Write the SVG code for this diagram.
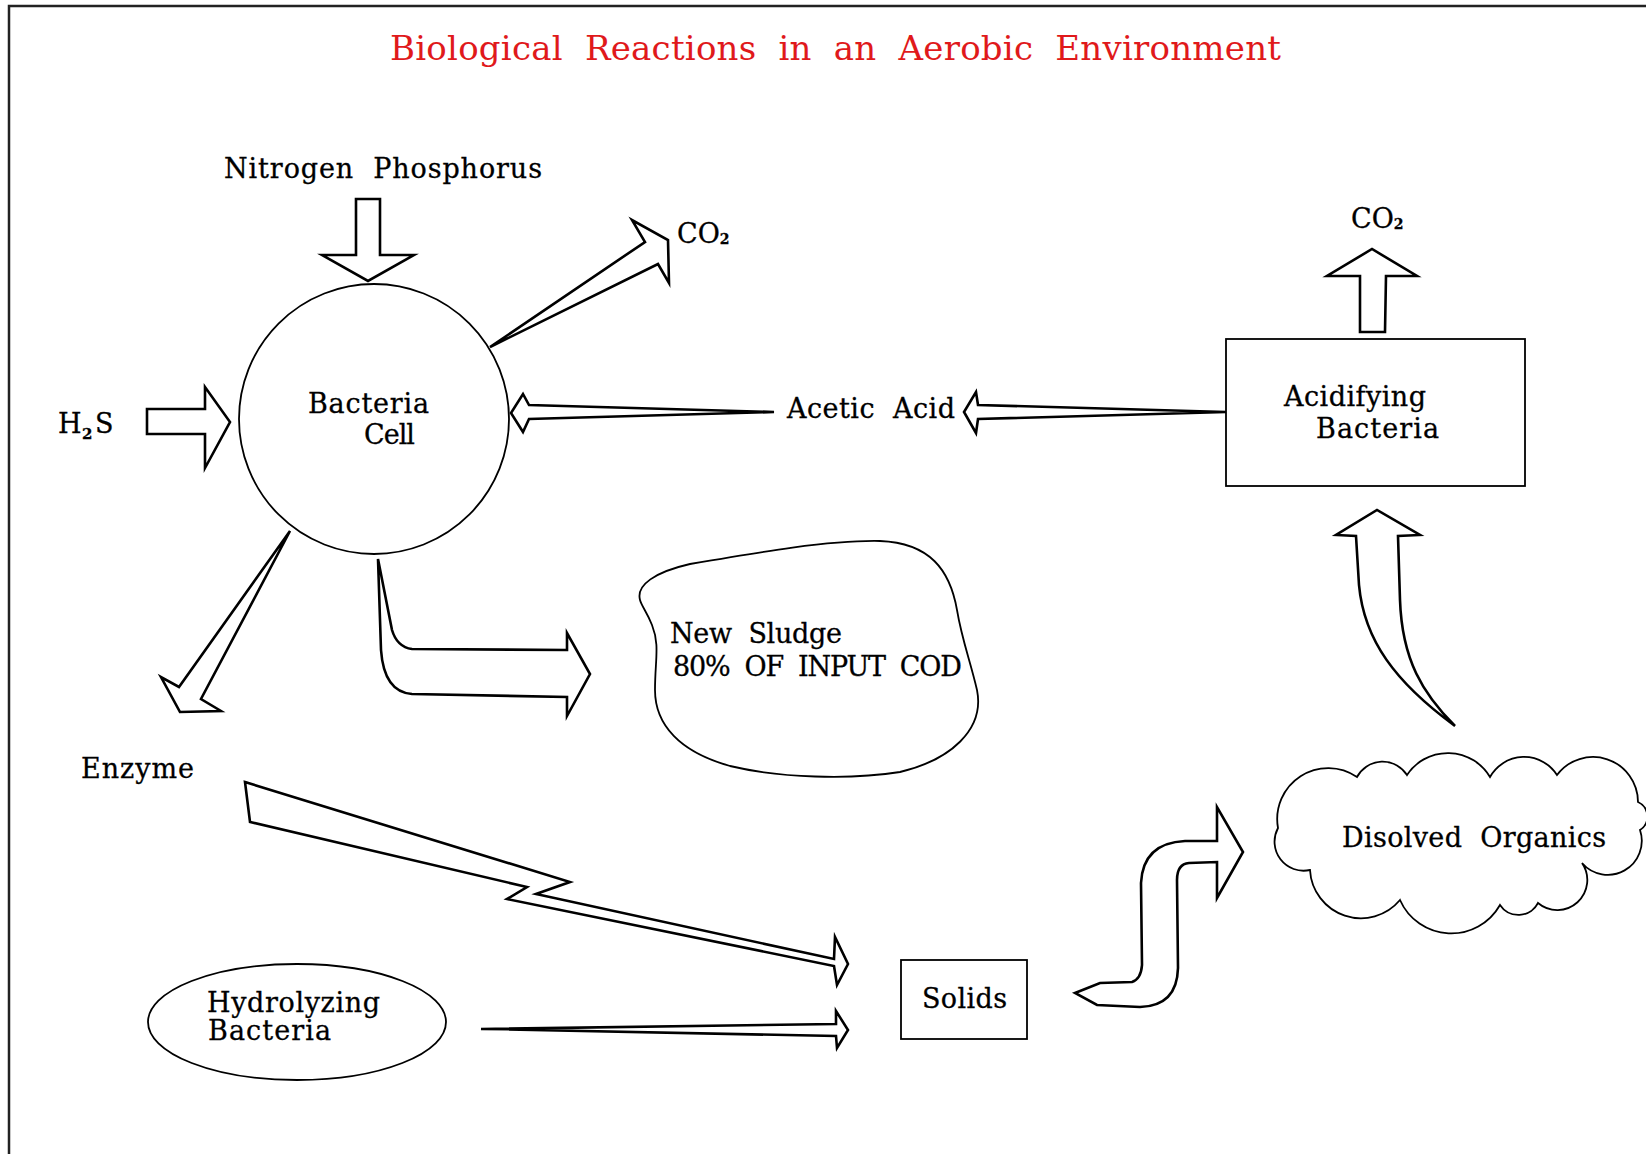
<svg xmlns="http://www.w3.org/2000/svg" width="1646" height="1154" viewBox="0 0 1646 1154">
<style>
.t{font-family:"DejaVu Serif","Liberation Serif",serif;font-size:27px;fill:#000;stroke:#000;stroke-width:0.3;white-space:pre}
.title{font-family:"DejaVu Serif","Liberation Serif",serif;font-size:34px;fill:#e0191b;white-space:pre}
.arr{fill:#fff;stroke:#000;stroke-width:2.6;stroke-linejoin:miter;stroke-miterlimit:10}
.node{fill:#fff;stroke:#000;stroke-width:1.8}
.frame{fill:none;stroke:#222;stroke-width:2.5}
</style>
<rect x="0" y="0" width="1646" height="1154" fill="#fff"/>
<path class="frame" d="M9,1160 L9,6 L1660,6"/>
<text id="title" class="title" x="390" y="60" textLength="891" lengthAdjust="spacing">Biological  Reactions  in  an  Aerobic  Environment</text>

<g id="connectors">
  <polygon id="arrow-nitrogen" class="arr" points="356,199 380,199 380,255 414,255 368,281 322,255 356,255"/>
  <polygon id="arrow-h2s" class="arr" points="147,409 205,409 205,387 230,422 205,468 205,434 147,434"/>
  <polygon id="arrow-co2-left" class="arr" points="490,347 645,242 632,220 668,240 669,283 658,264"/>
  <polygon id="arrow-acetic-right" class="arr" points="1226,412 978,405 976,392 964,412 976,433 978,419"/>
  <polygon id="arrow-acetic-left" class="arr" points="774,412 529,405 523,394 511,413 523,432 529,419"/>
  <polygon id="arrow-enzyme" class="arr" points="290,531 179,687 161,677 180,712 221,711 201,699"/>
  <path id="arrow-sludge" class="arr" d="M378,559 L381,650 Q384,692 412,694 L567,697 L567,716 L590,674 L567,633 L567,650 L412,649 Q397,647 392,630 Z"/>
  <polygon id="arrow-lightning" class="arr" points="245,782 570,882 536,894 834,959 835,937 848,964 837,985 834,966 507,899 527,887 250,822"/>
  <polygon id="arrow-hydrolyzing" class="arr" points="481,1029 836,1024 836,1011 848,1030 837,1048 836,1036"/>
  <path id="arrow-s" class="arr" d="M1075,993 L1100,983 L1132,982 Q1141,979 1142,965 L1141,883 Q1143,843 1185,841 L1217,841 L1217,807 L1243,852 L1217,898 L1217,862 L1189,863 Q1177,864 1177,880 L1178,968 Q1177,1006 1140,1007 L1097,1005 Z"/>
  <path id="arrow-up-curved" class="arr" d="M1455,726 C1423,694 1402,660 1400,600 L1398,536 L1420,535 L1377,510 L1336,535 L1356,536 L1359,585 C1364,640 1395,682 1455,726 Z"/>
  <polygon id="arrow-co2-right" class="arr" points="1360,332 1385,332 1386,276 1417,276 1372,249 1327,276 1360,276"/>
</g>

<g id="node-bacteria-cell">
  <circle class="node" cx="374" cy="419" r="135"/>
  <text class="t" x="308" y="413" textLength="121" lengthAdjust="spacing">Bacteria</text>
  <text class="t" x="364" y="444" textLength="51" lengthAdjust="spacing">Cell</text>
</g>
<g id="node-nitrogen-phosphorus">
  <text class="t" x="224" y="178" textLength="318" lengthAdjust="spacing">Nitrogen  Phosphorus</text>
</g>
<g id="node-h2s">
  <text class="t" x="58" y="433">H<tspan x="82" dy="6" font-size="15" font-weight="bold">2</tspan><tspan x="95" dy="-6">S</tspan></text>
</g>
<g id="node-co2-left">
  <text class="t" x="677" y="243" font-size="24">CO<tspan font-size="14" font-weight="bold" dy="1">2</tspan></text>
</g>
<g id="node-acetic-acid">
  <text class="t" x="787" y="418" textLength="168" lengthAdjust="spacing">Acetic  Acid</text>
</g>
<g id="node-acidifying-bacteria">
  <rect class="node" x="1226" y="339" width="299" height="147"/>
  <text class="t" x="1284" y="406" textLength="142" lengthAdjust="spacing">Acidifying</text>
  <text class="t" x="1316" y="438" textLength="123" lengthAdjust="spacing">Bacteria</text>
</g>
<g id="node-co2-right">
  <text class="t" x="1351" y="228" font-size="24">CO<tspan font-size="14" font-weight="bold" dy="1">2</tspan></text>
</g>
<g id="node-new-sludge">
  <path class="node" d="M640,600 C636,585 655,572 690,564 C760,552 830,540 880,541 C930,543 950,570 957,610 C962,640 970,660 977,690 C985,730 950,760 900,772 C850,780 780,778 730,766 C680,752 655,725 655,690 C655,660 660,645 652,625 C647,612 642,607 640,600 Z"/>
  <text class="t" x="670" y="643" textLength="172" lengthAdjust="spacing">New  Sludge</text>
  <text class="t" x="673" y="676" textLength="289" lengthAdjust="spacing">80%  OF  INPUT  COD</text>
</g>
<g id="node-enzyme">
  <text class="t" x="81" y="778" textLength="113" lengthAdjust="spacing">Enzyme</text>
</g>
<g id="node-hydrolyzing-bacteria">
  <ellipse class="node" cx="297" cy="1022" rx="149" ry="58"/>
  <text class="t" x="207" y="1012" textLength="173" lengthAdjust="spacing">Hydrolyzing</text>
  <text class="t" x="208" y="1040" textLength="123" lengthAdjust="spacing">Bacteria</text>
</g>
<g id="node-solids">
  <rect class="node" x="901" y="960" width="126" height="79"/>
  <text class="t" x="922" y="1008" textLength="85" lengthAdjust="spacing">Solids</text>
</g>
<g id="node-disolved-organics">
  <path class="node" d="M1278,828 A51,51 0 0 1 1357,777 A29,29 0 0 1 1407,775 A49,49 0 0 1 1490,777 A39,39 0 0 1 1557,775 A45,45 0 0 1 1638,802 A16,16 0 0 1 1640,830 A34,34 0 0 1 1582,863 A30,30 0 0 1 1538,903 A22,22 0 0 1 1500,905 A56,56 0 0 1 1400,900 A51,51 0 0 1 1310,870 A29,29 0 0 1 1278,828 Z"/>
  <text class="t" x="1342" y="847" textLength="264" lengthAdjust="spacing">Disolved  Organics</text>
</g>
</svg>
